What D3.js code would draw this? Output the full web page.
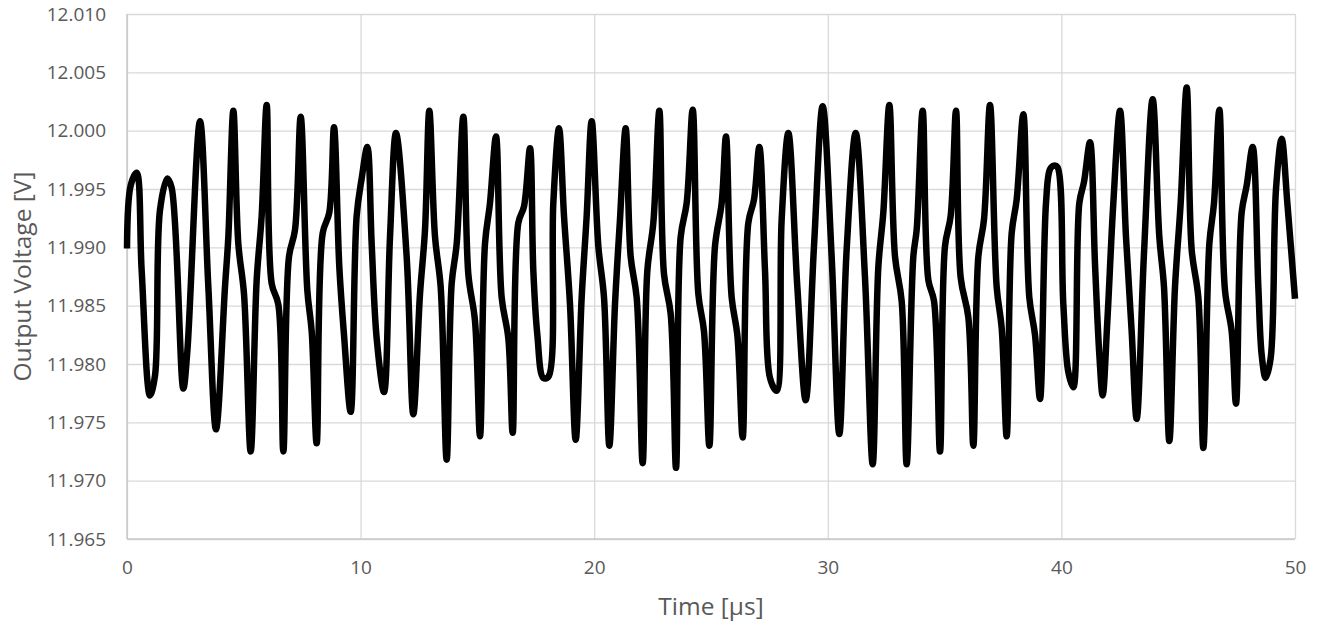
<!DOCTYPE html>
<html>
<head>
<meta charset="utf-8">
<script src="https://cdn.jsdelivr.net/npm/d3@7"></script>
<style>
  html, body { margin: 0; padding: 0; background: #ffffff; }
  svg { display: block; }
</style>
</head>
<body>
<svg id="chart" width="1323" height="626"></svg>
<script>
// ---- data ----
const timeUs = [
  0.00, 0.157, 0.414, 0.628, 0.985, 1.199, 1.413, 1.727, 1.912, 2.411, 2.583, 3.125, 3.482, 3.810,
  4.195, 4.338, 4.552, 4.766, 5.009, 5.294, 5.551, 5.765, 5.979, 6.193, 6.478, 6.692, 6.935, 7.192,
  7.435, 7.720, 7.906, 8.119, 8.376, 8.661, 8.861, 9.089, 9.289, 9.575, 9.832, 10.046, 10.288, 10.474,
  10.688, 11.002, 11.259, 11.515, 11.972, 12.257, 12.543, 12.757, 12.942, 13.185, 13.428, 13.684,
  13.899, 14.113, 14.398, 14.612, 14.897, 15.111, 15.325, 15.539, 15.796, 16.039, 16.324, 16.510,
  16.752, 16.995, 17.252, 17.394, 17.566, 17.822, 18.036, 18.250, 18.493, 18.707, 18.964, 19.207,
  19.464, 19.678, 19.892, 20.177, 20.420, 20.648, 20.890, 21.104, 21.347, 21.561, 21.818, 22.075,
  22.275, 22.531, 22.788, 22.988, 23.274, 23.502, 23.702, 23.959, 24.216, 24.458, 24.700, 24.929,
  25.171, 25.457, 25.642, 25.885, 26.127, 26.356, 26.598, 26.841, 27.069, 27.312, 27.526, 27.811,
  28.025, 28.310, 28.696, 29.053, 29.409, 29.780, 30.165, 30.493, 30.807, 31.193, 31.592, 31.921,
  32.163, 32.377, 32.634, 32.877, 33.162, 33.376, 33.661, 33.804, 34.061, 34.304, 34.546, 34.803,
  35.017, 35.260, 35.488, 35.688, 36.016, 36.230, 36.444, 36.687, 36.943, 37.229, 37.443, 37.657,
  37.871, 38.085, 38.370, 38.627, 38.870, 39.084, 39.341, 39.512, 39.683, 39.826, 40.083, 40.297,
  40.511, 40.768, 40.967, 41.224, 41.438, 41.624, 41.767, 41.967, 42.223, 42.509, 42.765, 43.008,
  43.222, 43.536, 43.907, 44.192, 44.392, 44.620, 44.863, 45.106, 45.363, 45.577, 45.862, 46.076,
  46.333, 46.533, 46.761, 47.003, 47.289, 47.474, 47.717, 47.931, 48.187, 48.430, 48.573, 48.744,
  48.958, 49.187, 49.429, 49.672, 50.000
];
const outputVoltage = [
  11.9899, 11.9953, 11.9964, 11.9880, 11.9773, 11.9790, 11.9932, 11.9959, 11.9951, 11.9779, 11.9811, 12.0008, 11.9866, 11.9744,
  11.9866, 11.9909, 12.0017, 11.9903, 11.9860, 11.9725, 11.9872, 11.9927, 12.0022, 11.9869, 11.9851, 11.9725, 11.9892, 11.9915,
  12.0012, 11.9863, 11.9828, 11.9732, 11.9912, 11.9930, 12.0003, 11.9883, 11.9825, 11.9759, 11.9927, 11.9959, 11.9986, 11.9903,
  11.9822, 11.9776, 11.9909, 11.9998, 11.9892, 11.9757, 11.9860, 11.9915, 12.0017, 11.9909, 11.9866, 11.9718,
  11.9869, 11.9903, 12.0012, 11.9877, 11.9837, 11.9738, 11.9903, 11.9938, 11.9995, 11.9857, 11.9822, 11.9741,
  11.9921, 11.9935, 11.9985, 11.9880, 11.9825, 11.9788, 11.9789, 11.9938, 12.0002, 11.9927, 11.9851, 11.9735,
  11.9857, 11.9927, 12.0008, 11.9901, 11.9857, 11.9730, 11.9851, 11.9924, 12.0002, 11.9892, 11.9857, 11.9715,
  11.9880, 11.9921, 12.0017, 11.9877, 11.9843, 11.9711, 11.9909, 11.9938, 12.0018, 11.9860, 11.9828, 11.9730,
  11.9901, 11.9938, 11.9995, 11.9857, 11.9825, 11.9737, 11.9921, 11.9941, 11.9986, 11.9880, 11.9788, 11.9777,
  11.9924, 11.9998, 11.9866, 11.9769, 11.9901, 12.0021, 11.9892, 11.9740, 11.9898, 11.9998, 11.9874, 11.9714,
  11.9883, 11.9930, 12.0022, 11.9892, 11.9854, 11.9714, 11.9892, 11.9915, 12.0017, 11.9872, 11.9854, 11.9725,
  11.9901, 11.9927, 12.0017, 11.9874, 11.9840, 11.9730, 11.9892, 11.9924, 12.0022, 11.9866, 11.9831, 11.9738,
  11.9912, 11.9941, 12.0014, 11.9857, 11.9825, 11.9770, 11.9938, 11.9967, 11.9970, 11.9969, 11.9851, 11.9793,
  11.9780, 11.9938, 11.9956, 11.9990, 11.9886, 11.9808, 11.9773, 11.9837, 11.9938, 12.0017, 11.9909, 11.9828,
  11.9753, 11.9895, 12.0027, 11.9909, 11.9866, 11.9734, 11.9866, 11.9938, 12.0037, 11.9898, 11.9857, 11.9728,
  11.9903, 11.9938, 12.0018, 11.9863, 11.9828, 11.9766, 11.9930, 11.9953, 11.9986, 11.9866, 11.9808, 11.9788,
  11.9805, 11.9950, 11.9993, 11.9938, 11.9856
];
const xTickValues = [0, 10, 20, 30, 40, 50];
const yTickValues = [11.965, 11.970, 11.975, 11.980, 11.985, 11.990, 11.995, 12.000, 12.005, 12.010];
const xTitle = "Time [µs]";
const yTitle = "Output Voltage [V]";

// ---- layout ----
const margin = { left: 127, right: 28, top: 14, bottom: 87 };
const W = 1323, H = 626;
const plotW = W - margin.left - margin.right;
const plotH = H - margin.top - margin.bottom;

const svg = d3.select("#chart");
const x = d3.scaleLinear().domain([0, 50]).range([margin.left, margin.left + plotW]);
const y = d3.scaleLinear().domain([11.965, 12.010]).range([margin.top + plotH, margin.top]);

const tickFont = "'Open Sans', Lato, sans-serif";
const titleFont = "'Open Sans', 'Liberation Sans', sans-serif";
const textColor = "#595959";
const gridColor = "#d9d9d9";

// horizontal gridlines + y tick labels
const yAxis = svg.append("g")
  .attr("transform", `translate(${margin.left},0)`)
  .call(d3.axisLeft(y).tickValues(yTickValues).tickFormat(d3.format(".3f"))
    .tickSizeInner(-plotW).tickSizeOuter(0).tickPadding(21));
yAxis.select(".domain").remove();
yAxis.selectAll(".tick line").attr("stroke", gridColor).attr("stroke-width", 1.3);
yAxis.selectAll(".tick text").attr("fill", textColor).style("font-family", tickFont).style("font-size", "19px");

// vertical gridlines + x tick labels
const xAxis = svg.append("g")
  .attr("transform", `translate(0,${margin.top + plotH})`)
  .call(d3.axisBottom(x).tickValues(xTickValues).tickFormat(d3.format("d"))
    .tickSizeInner(-plotH).tickSizeOuter(0).tickPadding(22));
xAxis.select(".domain").remove();
xAxis.selectAll(".tick line").attr("stroke", gridColor).attr("stroke-width", 1.3);
xAxis.selectAll(".tick text").attr("fill", textColor).style("font-family", tickFont).style("font-size", "19px");

// axis lines (left and bottom)
svg.append("line")
  .attr("x1", x(0)).attr("x2", x(50)).attr("y1", y(11.965)).attr("y2", y(11.965))
  .attr("stroke", "#c8c8c8").attr("stroke-width", 1.5);
svg.append("line")
  .attr("x1", x(0)).attr("x2", x(0)).attr("y1", y(11.965)).attr("y2", y(12.010))
  .attr("stroke", "#c8c8c8").attr("stroke-width", 1.5);

// data line
const pts = timeUs.map((t, i) => [t, outputVoltage[i]]);
const line = d3.line()
  .x(d => x(d[0]))
  .y(d => y(d[1]))
  .curve(d3.curveCatmullRom.alpha(0.5));
svg.append("path")
  .datum(pts)
  .attr("d", line)
  .attr("fill", "none")
  .attr("stroke", "#000000")
  .attr("stroke-width", 6.5)
  .attr("stroke-linejoin", "round")
  .attr("stroke-linecap", "butt");

// axis titles
svg.append("text")
  .attr("x", (x(0) + x(50)) / 2)
  .attr("y", 606)
  .attr("dy", "0.35em")
  .attr("text-anchor", "middle")
  .attr("fill", textColor)
  .style("font-family", titleFont)
  .style("font-size", "24.5px")
  .text(xTitle);

svg.append("text")
  .attr("transform", `translate(22,${(y(11.965) + y(12.010)) / 2}) rotate(-90)`)
  .attr("dy", "0.35em")
  .attr("text-anchor", "middle")
  .attr("fill", textColor)
  .style("font-family", titleFont)
  .style("font-size", "24.5px")
  .text(yTitle);
</script>
</body>
</html>
